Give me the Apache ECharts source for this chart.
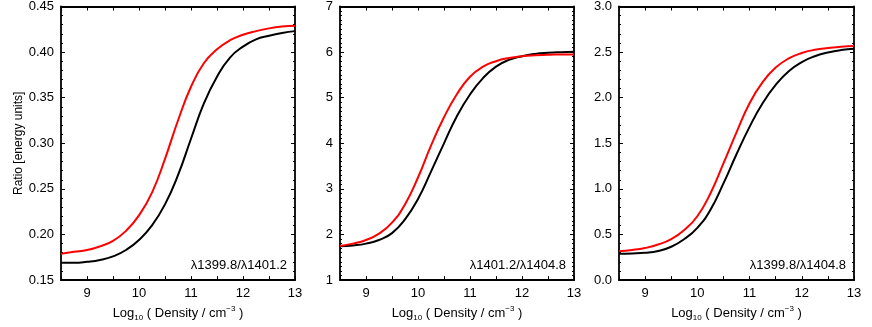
<!DOCTYPE html>
<html>
<head>
<meta charset="utf-8">
<title>Si IV line ratios vs density</title>
<script src="https://cdn.jsdelivr.net/npm/echarts@6/dist/echarts.min.js"></script>
<style>
  html, body { margin: 0; padding: 0; background: #fff; }
  #chart { width: 872px; height: 327px; }
</style>
</head>
<body>
<div id="chart"></div>
<script>
// log10 density grid shared by all panels
const logDensity = [8.5, 8.75, 9.0, 9.25, 9.5, 9.75, 10.0, 10.25, 10.5, 10.75,
  11.0, 11.25, 11.5, 11.75, 12.0, 12.25, 12.5, 12.75, 13.0]

// panel 1: 1399.8 / 1401.2
const ratioA_black = [0.169, 0.169, 0.170, 0.172, 0.176, 0.183, 0.194, 0.210, 0.233, 0.265,
  0.305, 0.344, 0.373, 0.394, 0.406, 0.414, 0.418, 0.421, 0.423]
const ratioA_red = [0.179, 0.181, 0.183, 0.187, 0.193, 0.204, 0.221, 0.246, 0.283, 0.325,
  0.362, 0.388, 0.403, 0.413, 0.419, 0.423, 0.426, 0.428, 0.429]

// panel 2: 1401.2 / 1404.8
const ratioB_black = [1.74, 1.76, 1.80, 1.88, 2.03, 2.33, 2.78, 3.38, 4.00, 4.60,
  5.07, 5.43, 5.68, 5.83, 5.91, 5.96, 5.985, 5.998, 6.005]
const ratioB_red = [1.75, 1.80, 1.88, 2.02, 2.26, 2.66, 3.25, 3.95, 4.57, 5.08,
  5.46, 5.68, 5.80, 5.87, 5.91, 5.93, 5.94, 5.95, 5.95]

// panel 3: 1399.8 / 1404.8
const ratioC_black = [0.29, 0.293, 0.30, 0.32, 0.366, 0.45, 0.573, 0.77, 1.06, 1.38,
  1.68, 1.94, 2.14, 2.29, 2.39, 2.455, 2.495, 2.522, 2.537]
const ratioC_red = [0.317, 0.33, 0.352, 0.39, 0.449, 0.55, 0.70, 0.95, 1.28, 1.62,
  1.94, 2.17, 2.33, 2.43, 2.49, 2.525, 2.545, 2.558, 2.566]

// tick labels
const xTicks = [9, 10, 11, 12, 13]
const yTicksA = [0.15, 0.20, 0.25, 0.30, 0.35, 0.40, 0.45]
const yTicksB = [1, 2, 3, 4, 5, 6, 7]
const yTicksC = [0.0, 0.5, 1.0, 1.5, 2.0, 2.5, 3.0]

const labelsA = 'λ1399.8/λ1401.2'
const labelsB = 'λ1401.2/λ1404.8'
const labelsC = 'λ1399.8/λ1404.8'

const FONT = '"Liberation Sans", Arial, Helvetica, sans-serif'

const panels = [
  { left: 61, width: 234, ticks: yTicksA, digits: 2, minor: 5, black: ratioA_black, red: ratioA_red, text: labelsA },
  { left: 340, width: 234, ticks: yTicksB, digits: 0, minor: 10, black: ratioB_black, red: ratioB_red, text: labelsB },
  { left: 619, width: 235, ticks: yTicksC, digits: 1, minor: 5, black: ratioC_black, red: ratioC_red, text: labelsC }
]

const pairs = (ys) => logDensity.map((x, i) => [x, ys[i]])

const grid = [], xAxis = [], yAxis = [], series = [], graphic = []

panels.forEach((p, i) => {
  grid.push({ left: p.left, top: 6, width: p.width, height: 281 })

  const lineStyle = { color: '#000', width: 1.8 }
  const baseX = {
    type: 'value', gridIndex: i, min: 8.5, max: 13, interval: 0.5,
    axisLine: { onZero: false, lineStyle },
    axisTick: { inside: true, length: 4, lineStyle: { color: '#000', width: 1 } },
    splitLine: { show: false }
  }
  xAxis.push(Object.assign({}, baseX, {
    position: 'bottom',
    axisLabel: {
      customValues: xTicks, color: '#000', fontSize: 13, fontFamily: FONT, margin: 7
    },
    name: '{a|Log}{sub|10}{a| ( Density / cm}{sup|−3}{a| )}',
    nameLocation: 'middle', nameGap: 23,
    nameTextStyle: {
      color: '#000', fontFamily: FONT,
      rich: {
        a: { fontSize: 13, fontFamily: FONT, color: '#000' },
        sub: { fontSize: 8, fontFamily: FONT, color: '#000', padding: [9, 0, 0, 0] },
        sup: { fontSize: 8, fontFamily: FONT, color: '#000', padding: [0, 0, 9, 0] }
      }
    }
  }))
  xAxis.push(Object.assign({}, baseX, {
    position: 'top',
    axisLabel: { show: false }
  }))

  const t = p.ticks
  const baseY = {
    type: 'value', gridIndex: i, min: t[0], max: t[t.length - 1],
    interval: +(t[1] - t[0]).toFixed(4),
    axisLine: { show: true, onZero: false, lineStyle },
    axisTick: { show: true, inside: true, length: 4, lineStyle: { color: '#000', width: 1 } },
    minorTick: { show: true, splitNumber: p.minor, length: 2, lineStyle: { color: '#000', width: 1 } },
    splitLine: { show: false }
  }
  yAxis.push(Object.assign({}, baseY, {
    position: 'left',
    axisLabel: {
      color: '#000', fontSize: 13, fontFamily: FONT, margin: 7,
      formatter: v => v.toFixed(p.digits)
    },
    name: i === 0 ? 'Ratio [energy units]' : '',
    nameLocation: 'middle', nameRotate: 90, nameGap: 36,
    nameTextStyle: { color: '#000', fontSize: 12, fontFamily: FONT }
  }))
  yAxis.push(Object.assign({}, baseY, {
    position: 'right',
    axisLabel: { show: false }
  }))

  const common = { type: 'line', xAxisIndex: 2 * i, yAxisIndex: 2 * i, showSymbol: false,
    smooth: 0.5, silent: true, z: 1 }
  series.push(Object.assign({}, common, { data: pairs(p.black), lineStyle: { color: '#000', width: 2 } }))
  series.push(Object.assign({}, common, { data: pairs(p.red), lineStyle: { color: '#ff0000', width: 2 } }))

  graphic.push({
    type: 'text', right: 872 - (p.left + p.width) + 8, top: 259,
    style: { text: p.text, fill: '#000', fontSize: 13, fontFamily: FONT }
  })
})

const chart = echarts.init(document.getElementById('chart'), null, { renderer: 'canvas' })
chart.setOption({
  animation: false,
  backgroundColor: '#fff',
  grid, xAxis, yAxis, series, graphic
})
window.addEventListener('resize', () => chart.resize())
</script>
</body>
</html>
